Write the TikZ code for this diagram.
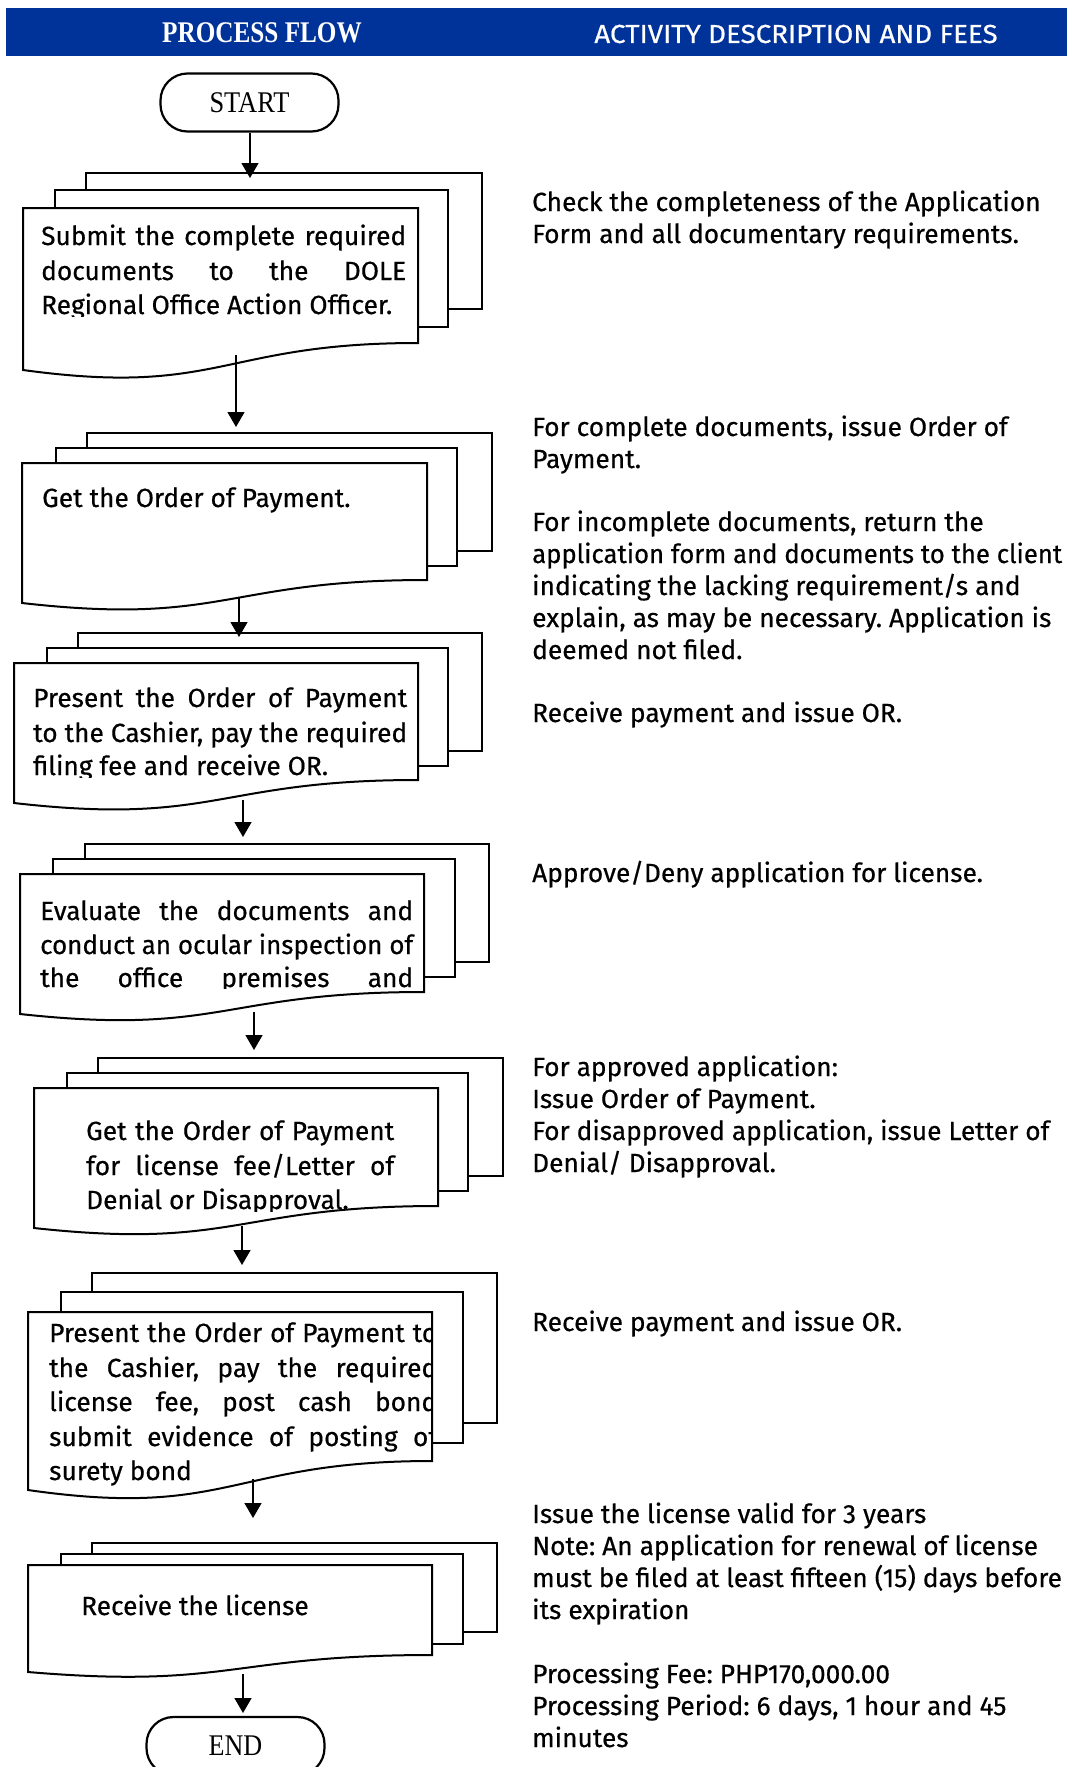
\documentclass[tikz,border=0pt]{standalone}
\usepackage{fontspec}
\setmainfont{Fira Sans}[FakeBold=0.5]
\newfontfamily\serifface{Liberation Serif}
\usetikzlibrary{arrows.meta}
\definecolor{hdrblue}{RGB}{0,51,153}
\frenchspacing

% front sheet of a multi-document symbol: left, top, right, right-bottom, left-bottom
\newcommand\frontdoc[5]{%
  \draw[docline] (#1,#2) -- (#3,#2) -- (#3,#4)
    .. controls ({(#1+#3)/2},#4) and ({(#1+#3)/2},{#4+2.0*(#5-#4)}) .. (#1,#5) -- cycle;}

% justified line of a given width: spaces stretch, or the line is narrowed when too long
\newsavebox\jbox
\newcommand\jline[2]{%
  \sbox\jbox{#2}%
  \ifdim\wd\jbox>#1\relax
    \pgfmathsetmacro\jfac{(#1)/(\the\wd\jbox)}%
    \scalebox{\jfac}[1]{\usebox\jbox}%
  \else
    \makebox[#1][s]{#2}%
  \fi}
% left-aligned line, narrowed only when too long
\newcommand\lline[2]{%
  \sbox\jbox{#2}%
  \ifdim\wd\jbox>#1\relax
    \pgfmathsetmacro\jfac{(#1)/(\the\wd\jbox)}%
    \scalebox{\jfac}[1]{\usebox\jbox}%
  \else
    \usebox\jbox
  \fi}

\tikzset{
  docline/.style={draw=black, line width=2pt, fill=white},
  arr/.style={line width=1.4pt, -{Triangle[width=17pt,length=15pt]}},
  txt/.style={anchor=base west, inner sep=0pt, font=\fontsize{26.3}{30}\selectfont},
  term/.style={draw, line width=2.2pt, rounded corners=27pt, minimum width=178pt,
    minimum height=58pt, fill=white, inner sep=0pt, font=\serifface\fontsize{30}{34}\selectfont},
}

\begin{document}
\begin{tikzpicture}[x=1pt,y=-1pt]
\useasboundingbox (0,0) rectangle (1067,1767);
\clip (0,0) rectangle (1067,1767);

% header band
\fill[hdrblue] (6,8) rectangle (1067,56);
\node[text=white, inner sep=0pt, font=\serifface\bfseries\fontsize{30}{34}\selectfont] (hleft) at (262,33) {\scalebox{0.84}[1]{PROCESS FLOW}};
\node[text=white, inner sep=0pt, font=\fontsize{26}{30}\selectfont] (hright) at (796,34) {\scalebox{1.066}[1]{ACTIVITY DESCRIPTION AND FEES}};

% terminals
\node[term] (start) at (249.5,102.5) {\scalebox{0.88}[1]{START}};
\node[term] (end) at (235.5,1746) {\scalebox{0.87}[1]{END}};

% ---- step 1
\draw[docline] (86,173) rectangle (482,309);
\draw[docline] (55,190) rectangle (448,327);
\frontdoc{23}{208}{418}{343}{370}
\begin{scope}
  \clip (23,208) rectangle (418,316);
  \node[txt] (s1a) at (41,245) {\jline{365pt}{Submit the complete required}};
  \node[txt] (s1b) at (41,280) {\jline{365pt}{documents to the DOLE}};
  \node[txt] (s1c) at (41,314) {\lline{365pt}{Regional Office Action Officer.}};
\end{scope}

% ---- step 2
\draw[docline] (87,433) rectangle (492,551);
\draw[docline] (56,448) rectangle (457,566);
\frontdoc{22}{463}{427}{580}{603}
\node[txt] (s2a) at (42,507) {Get the Order of Payment.};

% ---- step 3
\draw[docline] (78,633) rectangle (482,751);
\draw[docline] (47,648) rectangle (448,766);
\frontdoc{14}{663}{418}{780}{803}
\begin{scope}
  \clip (14,663) rectangle (418,777);
  \node[txt] (s3a) at (33,707) {\jline{374pt}{Present the Order of Payment}};
  \node[txt] (s3b) at (33,742) {\jline{374pt}{to the Cashier, pay the required}};
  \node[txt] (s3c) at (33,775) {\lline{374pt}{filing fee and receive OR.}};
\end{scope}

% ---- step 4
\draw[docline] (85,844) rectangle (489,962);
\draw[docline] (53,859) rectangle (455,977);
\frontdoc{20}{874}{424}{992}{1014}
\begin{scope}
  \clip (20,874) rectangle (424,988);
  \node[txt] (s4a) at (40,920) {\jline{373pt}{Evaluate the documents and}};
  \node[txt] (s4b) at (40,954) {\jline{373pt}{conduct an ocular inspection of}};
  \node[txt] (s4c) at (40,987) {\jline{373pt}{the office premises and}};
\end{scope}

% ---- step 5
\draw[docline] (98,1058) rectangle (503,1176);
\draw[docline] (67,1073) rectangle (468,1191);
\frontdoc{34}{1088}{438}{1206}{1228}
\begin{scope}
  \clip (34,1088) rectangle (438,1211);
  \node[txt] (s5a) at (86,1140) {\jline{308pt}{Get the Order of Payment}};
  \node[txt] (s5b) at (86,1175) {\jline{308pt}{for license fee/Letter of}};
  \node[txt] (s5c) at (86,1209) {\lline{308pt}{Denial or Disapproval.}};
\end{scope}

% ---- step 6
\draw[docline] (92,1273) rectangle (497,1423);
\draw[docline] (61,1292) rectangle (463,1443);
\frontdoc{28}{1312}{432}{1461}{1490}
\begin{scope}
  \clip (28,1312) rectangle (432,1500);
  \node[txt] (s6a) at (49,1342) {\jline{388pt}{Present the Order of Payment to}};
  \node[txt] (s6b) at (49,1377) {\jline{388pt}{the Cashier, pay the required}};
  \node[txt] (s6c) at (49,1411) {\jline{388pt}{license fee, post cash bond}};
  \node[txt] (s6d) at (49,1446) {\jline{388pt}{submit evidence of posting of}};
  \node[txt] (s6e) at (49,1480) {surety bond};
\end{scope}

% ---- step 7
\draw[docline] (92,1543) rectangle (497,1632);
\draw[docline] (61,1554) rectangle (463,1644);
\frontdoc{28}{1565}{432}{1655}{1672}
\node[txt] (s7a) at (81,1615) {Receive the license};

% connector end points
\coordinate (in1) at (250,178);
\coordinate (out1) at (236,355);  \coordinate (in2) at (236,427);
\coordinate (out2) at (239,598);  \coordinate (in3) at (239,637);
\coordinate (out3) at (243,800);  \coordinate (in4) at (243,837);
\coordinate (out4) at (254,1012); \coordinate (in5) at (254,1050);
\coordinate (out5) at (242,1226); \coordinate (in6) at (242,1265);
\coordinate (out6) at (253,1479); \coordinate (in7) at (253,1518);
\coordinate (out7) at (243,1674); \coordinate (inend) at (243,1713);

\draw[arr] (start.south -| in1) -- (in1);
\draw[arr] (out1) -- (in2);
\draw[arr] (out2) -- (in3);
\draw[arr] (out3) -- (in4);
\draw[arr] (out4) -- (in5);
\draw[arr] (out5) -- (in6);
\draw[arr] (out6) -- (in7);
\draw[arr] (out7) -- (inend);

% activity descriptions
\foreach \t [count=\i] in {{Check the completeness of the Application},{Form and all documentary requirements.}}
  \node[txt] (d1-\i) at (532,{211+32*(\i-1)}) {\lline{530pt}{\t}};
\foreach \t [count=\i] in {{For complete documents, issue Order of},{Payment.}}
  \node[txt] (d2-\i) at (532,{436+32*(\i-1)}) {\lline{530pt}{\t}};
\foreach \t [count=\i] in {{For incomplete documents, return the},{application form and documents to the client},{indicating the lacking requirement/s and},{explain, as may be necessary. Application is},{deemed not filed.}}
  \node[txt] (d3-\i) at (532,{531+32*(\i-1)}) {\lline{530pt}{\t}};
\node[txt] (d4) at (532,722) {Receive payment and issue OR.};
\node[txt] (d5) at (532,882) {Approve/Deny application for license.};
\foreach \t [count=\i] in {{For approved application:},{Issue Order of Payment.},{For disapproved application, issue Letter of},{Denial/ Disapproval.}}
  \node[txt] (d6-\i) at (532,{1076+32*(\i-1)}) {\lline{530pt}{\t}};
\node[txt] (d7) at (532,1331) {Receive payment and issue OR.};
\foreach \t [count=\i] in {{Issue the license valid for 3 years},{Note: An application for renewal of license},{must be filed at least fifteen (15) days before},{its expiration}}
  \node[txt] (d8-\i) at (532,{1523+32*(\i-1)}) {\lline{530pt}{\t}};
\foreach \t [count=\i] in {{Processing Fee: PHP170,000.00},{Processing Period: 6 days, 1 hour and 45},{minutes}}
  \node[txt] (d9-\i) at (532,{1683+32*(\i-1)}) {\lline{530pt}{\t}};
\end{tikzpicture}
\end{document}
